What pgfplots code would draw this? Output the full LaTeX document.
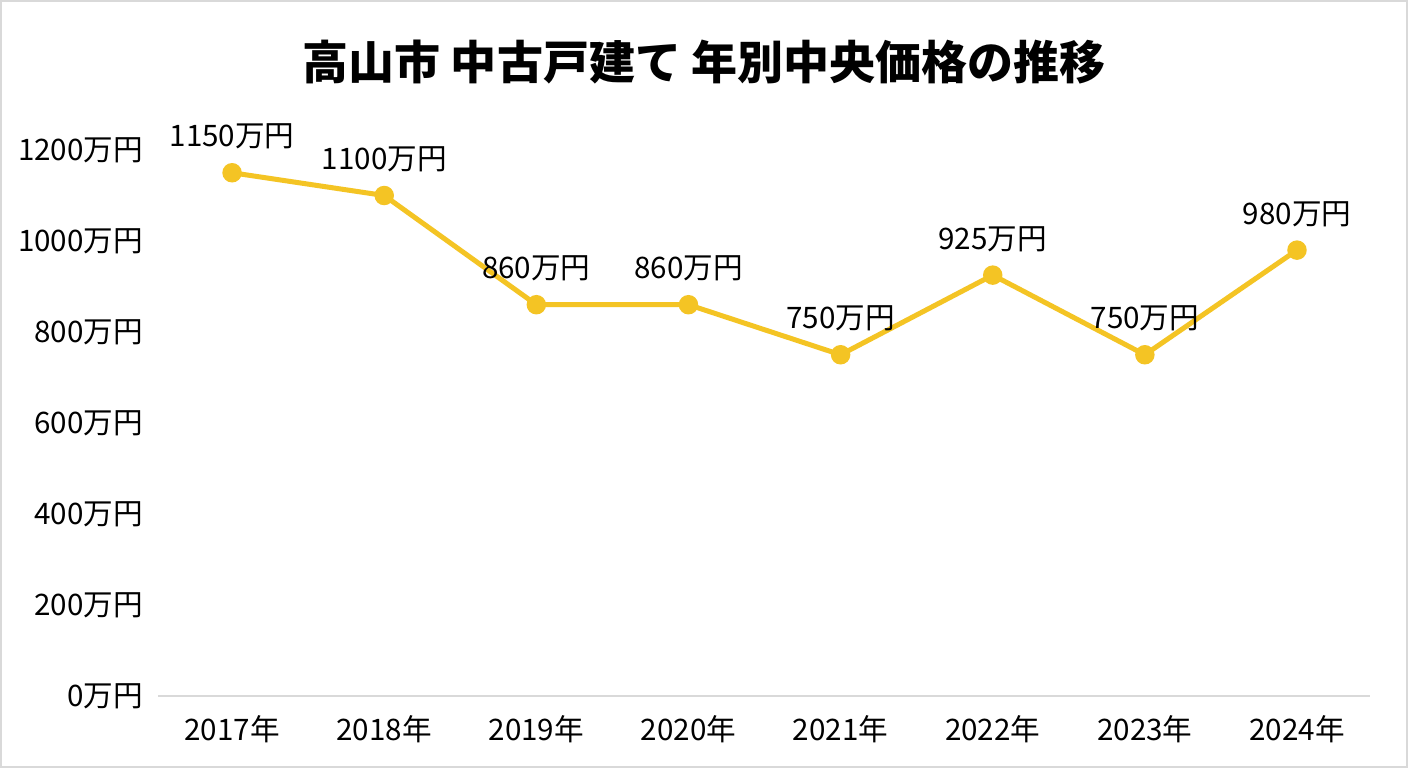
\documentclass[border=0pt]{standalone}
\usepackage{fontspec}
\setmainfont{Noto Sans CJK JP}
\usepackage{pgfplots}
\pgfplotsset{compat=1.18}
\definecolor{lineY}{RGB}{244,196,36}
\definecolor{axgray}{RGB}{217,217,217}
\begin{document}
\begin{tikzpicture}[x=1pt,y=1pt]
\fill[white] (0,0) rectangle (704,384);
\draw[axgray, line width=1pt] (0.5,0.5) rectangle (703.5,383.5);
\node[font=\fontsize{23}{27}\selectfont\bfseries] at (352,353) {高山市 中古戸建て 年別中央価格の推移};
\begin{axis}[
  at={(79pt,36pt)}, anchor=south west,
  scale only axis, width=606pt, height=273pt,
  xmin=-0.487, xmax=7.48, ymin=0, ymax=1200,
  clip=false,
  axis x line=bottom, axis y line=left,
  x axis line style={axgray, line width=0.75pt, -},
  y axis line style={draw=none},
  major tick length=0pt,
  tick style={draw=none},
  xtick={0,...,7},
  xticklabels={2017年,2018年,2019年,2020年,2021年,2022年,2023年,2024年},
  ytick={0,200,...,1200},
  yticklabels={0万円,200万円,400万円,600万円,800万円,1000万円,1200万円},
  ticklabel style={font=\fontsize{14.8}{17}\selectfont, text=black},
  yticklabel style={xshift=-4.0pt},
  xticklabel style={yshift=-6.3pt},
  nodes near coords={\pgfmathprintnumber[1000 sep={},assume math mode=true]{\pgfplotspointmeta}万円},
  every node near coord/.append style={font=\fontsize{14.8}{17}\selectfont, text=black, anchor=center, yshift=18pt},
]
\addplot[lineY, line width=2.5pt, mark=*, mark size=3.6pt, mark options={fill=lineY, draw=lineY}]
coordinates {(0,1150) (1,1100) (2,860) (3,860) (4,750) (5,925) (6,750) (7,980)};
\end{axis}
\end{tikzpicture}
\end{document}
